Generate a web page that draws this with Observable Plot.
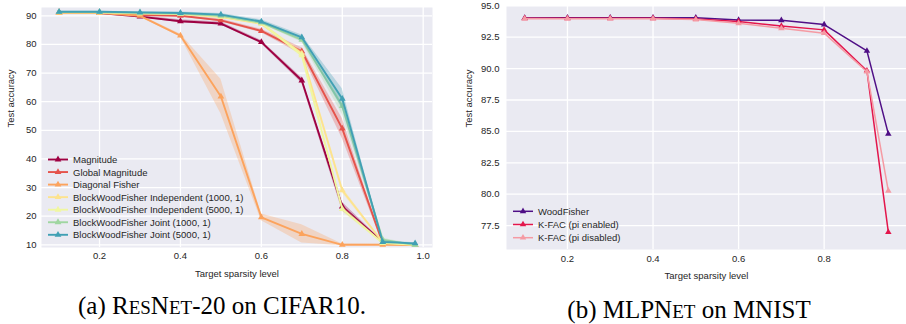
<!DOCTYPE html>
<html><head><meta charset="utf-8">
<script src="https://cdn.jsdelivr.net/npm/d3@7"></script>
<script src="https://cdn.jsdelivr.net/npm/@observablehq/plot@0.6"></script>
<style>
body{margin:0;background:#fff;}
#wrap{position:relative;width:906px;height:324px;overflow:hidden;font-family:"Liberation Sans",Arial,sans-serif;}
.chart{position:absolute;top:0;}
#overlay{position:absolute;left:0;top:0;pointer-events:none;}
</style></head>
<body>
<div id="wrap">
  <div class="chart" id="left" style="left:0px"></div>
  <div class="chart" id="right" style="left:450px"></div>
</div>
<script>
// ---------- Data: (a) ResNet-20 on CIFAR10 ----------
const sparsityA = [0.1, 0.2, 0.3, 0.4, 0.5, 0.6, 0.7, 0.8, 0.9, 0.98];
const magnitude      = [91.2, 91.0, 89.7, 88.1, 87.3, 80.8, 67.4, 23.4, 10.9, 10.0];
const magnitudeSd    = [0.2, 0.2, 0.3, 0.5, 0.5, 0.6, 1.0, 1.5, 0.3, 0.1];
const globalMag      = [91.2, 91.1, 90.3, 90.0, 88.4, 84.7, 77.6, 50.6, 10.6, 10.0];
const globalMagSd    = [0.2, 0.2, 0.3, 0.4, 0.5, 0.6, 1.2, 3.5, 0.3, 0.1];
const diagFisher     = [91.0, 91.0, 90.0, 83.1, 61.8, 19.6, 13.8, 10.0, 10.0, 9.9];
const diagFisherSd   = [0.2, 0.2, 0.3, 0.5, 6.0, 1.2, 3.2, 0.3, 0.2, 0.1];
const bwfInd1000     = [91.2, 91.2, 90.9, 90.6, 89.6, 87.2, 76.8, 29.0, 10.9, 10.0];
const bwfInd1000Sd   = [0.2, 0.2, 0.2, 0.3, 0.4, 0.5, 0.8, 1.0, 0.3, 0.1];
const bwfInd5000     = [91.2, 91.2, 90.9, 90.7, 89.8, 87.5, 76.2, 22.5, 10.6, 10.0];
const bwfInd5000Sd   = [0.2, 0.2, 0.2, 0.3, 0.4, 0.5, 0.8, 1.0, 0.3, 0.1];
const bwfJoint1000   = [91.3, 91.3, 91.0, 90.8, 90.0, 87.6, 81.6, 58.5, 11.8, 9.9];
const bwfJoint1000Sd = [0.2, 0.2, 0.2, 0.3, 0.4, 0.5, 0.8, 3.0, 0.5, 0.2];
const bwfJoint5000   = [91.4, 91.4, 91.2, 91.0, 90.4, 88.0, 82.5, 61.0, 11.0, 10.5];
const bwfJoint5000Sd = [0.2, 0.2, 0.2, 0.3, 0.4, 0.6, 0.8, 3.5, 0.4, 0.2];
const namesA  = ["Magnitude", "Global Magnitude", "Diagonal Fisher",
  "BlockWoodFisher Independent (1000, 1)", "BlockWoodFisher Independent (5000, 1)",
  "BlockWoodFisher Joint (1000, 1)", "BlockWoodFisher Joint (5000, 1)"];
const colorsA = ["#9e0142", "#e5534b", "#fca35d", "#fde38e", "#f0f7a0", "#9fd6a1", "#40a0b4"];
const xTicksA = [0.2, 0.4, 0.6, 0.8, 1.0];
const yTicksA = [10, 20, 30, 40, 50, 60, 70, 80, 90];

// ---------- Data: (b) MLPNet on MNIST ----------
const sparsityB = [0.1, 0.2, 0.3, 0.4, 0.5, 0.6, 0.7, 0.8, 0.9, 0.95];
const woodFisher   = [94.02, 94.05, 94.05, 94.05, 94.05, 93.86, 93.84, 93.5, 91.41, 84.8];
const kfacEnabled  = [94.0, 94.0, 94.0, 94.0, 93.95, 93.75, 93.38, 93.08, 89.83, 76.98];
const kfacDisabled = [93.97, 93.97, 93.97, 93.97, 93.9, 93.6, 93.2, 92.82, 89.75, 80.27];
const namesB  = ["WoodFisher", "K-FAC (pi enabled)", "K-FAC (pi disabled)"];
const colorsB = ["#4f0f86", "#e3164c", "#f59aa3"];
const xTicksB = [0.2, 0.4, 0.6, 0.8];
const yTicksB = [77.5, 80.0, 82.5, 85.0, 87.5, 90.0, 92.5, 95.0];

// ---------- build ----------
const ink = "#262626";
const seriesA = [
  [magnitude, magnitudeSd], [globalMag, globalMagSd], [diagFisher, diagFisherSd],
  [bwfInd1000, bwfInd1000Sd], [bwfInd5000, bwfInd5000Sd],
  [bwfJoint1000, bwfJoint1000Sd], [bwfJoint5000, bwfJoint5000Sd]
].map(([ys, sd], k) => ({
  name: namesA[k], color: colorsA[k],
  rows: sparsityA.map((x, i) => ({x, y: ys[i], lo: ys[i] - sd[i], hi: ys[i] + sd[i]}))
}));
const seriesB = [woodFisher, kfacEnabled, kfacDisabled].map((ys, k) => ({
  name: namesB[k], color: colorsB[k],
  rows: sparsityB.map((x, i) => ({x, y: ys[i]}))
}));

const style = {fontFamily: "'Liberation Sans', Arial, sans-serif", fontSize: "9.5px", color: ink, background: "transparent", overflow: "visible"};

const left = Plot.plot({
  width: 450, height: 290,
  marginLeft: 41, marginRight: 18, marginTop: 7, marginBottom: 43,
  style,
  x: {domain: [0.0566, 1.023], ticks: xTicksA, tickFormat: d3.format(".1f"), tickSize: 0, tickPadding: 5, label: null},
  y: {domain: [9.06, 92.9], ticks: yTicksA, tickFormat: d3.format("d"), tickSize: 0, tickPadding: 5, label: null},
  marks: [
    Plot.frame({fill: "#eaeaf2", stroke: "none"}),
    Plot.ruleX(xTicksA, {stroke: "white", strokeWidth: 1.3}),
    Plot.ruleY(yTicksA, {stroke: "white", strokeWidth: 1.3}),
    ...seriesA.flatMap(s => [
      Plot.areaY(s.rows, {x: "x", y1: "lo", y2: "hi", fill: s.color, fillOpacity: 0.3}),
      Plot.line(s.rows, {x: "x", y: "y", stroke: s.color, strokeWidth: 1.9}),
      Plot.dot(s.rows, {x: "x", y: "y", symbol: "triangle", fill: s.color, r: 2.5})
    ]),
    Plot.text(["Target sparsity level"], {frameAnchor: "bottom", dy: 29, fill: ink, fontSize: 9.5}),
    Plot.text(["Test accuracy"], {frameAnchor: "left", dx: -31, rotate: -90, fill: ink, fontSize: 9.5})
  ]
});
document.getElementById("left").appendChild(left);

const right = Plot.plot({
  width: 456, height: 290,
  marginLeft: 56, marginRight: 0, marginTop: 5, marginBottom: 41,
  style,
  x: {domain: [0.0575, 0.9925], ticks: xTicksB, tickFormat: d3.format(".1f"), tickSize: 0, tickPadding: 6, label: null},
  y: {domain: [75.6, 95.02], ticks: yTicksB, tickFormat: d3.format(".1f"), tickSize: 0, tickPadding: 7, label: null},
  marks: [
    Plot.frame({fill: "#eaeaf2", stroke: "none"}),
    Plot.ruleX(xTicksB, {stroke: "white", strokeWidth: 1.3}),
    Plot.ruleY(yTicksB, {stroke: "white", strokeWidth: 1.3}),
    ...seriesB.flatMap(s => [
      Plot.line(s.rows, {x: "x", y: "y", stroke: s.color, strokeWidth: 1.5}),
      Plot.dot(s.rows, {x: "x", y: "y", symbol: "triangle", fill: s.color, r: 2.4})
    ]),
    Plot.text(["Target sparsity level"], {frameAnchor: "bottom", dy: 29, fill: ink, fontSize: 9.5}),
    Plot.text(["Test accuracy"], {frameAnchor: "left", dx: -38, rotate: -90, fill: ink, fontSize: 9.5})
  ]
});
document.getElementById("right").appendChild(right);

// ---------- legends & captions overlay ----------
const ns = "http://www.w3.org/2000/svg";
const ov = document.createElementNS(ns, "svg");
ov.setAttribute("id", "overlay");
ov.setAttribute("width", 906); ov.setAttribute("height", 324);
document.getElementById("wrap").appendChild(ov);
function el(tag, attrs, parent = ov) {
  const e = document.createElementNS(ns, tag);
  for (const k in attrs) e.setAttribute(k, attrs[k]);
  parent.appendChild(e); return e;
}
function legend(names, colors, x0, y0, step, r, sw) {
  names.forEach((n, i) => {
    const y = y0 + i * step;
    el("line", {x1: x0, x2: x0 + 20, y1: y, y2: y, stroke: colors[i], "stroke-width": sw});
    el("path", {d: d3.symbol(d3.symbolTriangle, r * r * Math.PI)(), transform: `translate(${x0 + 10},${y})`, fill: colors[i]});
    const t = el("text", {x: x0 + 25, y: y, "dominant-baseline": "central", "font-family": "'Liberation Sans', Arial, sans-serif", "font-size": "9.5px", fill: ink});
    t.textContent = n;
  });
}
legend(namesA, colorsA, 48, 159.5, 12.55, 2.5, 1.9);
legend(namesB, colorsB, 513, 211.3, 13.2, 2.4, 1.5);

function caption(parts, cx, y) {
  const t = el("text", {x: cx, y: y, "text-anchor": "middle", "font-family": "'Liberation Serif', 'Times New Roman', serif", "font-size": "25px", fill: "#000"});
  parts.forEach(([s, small]) => {
    const sp = el("tspan", small ? {"font-size": "19px"} : {}, t);
    sp.textContent = s;
  });
}
caption([["(a) R", 0], ["ES", 1], ["N", 0], ["ET", 1], ["-20 on CIFAR10.", 0]], 222, 314);
caption([["(b) MLPN", 0], ["ET", 1], [" on MNIST", 0]], 689, 318);
</script>
</body></html>
